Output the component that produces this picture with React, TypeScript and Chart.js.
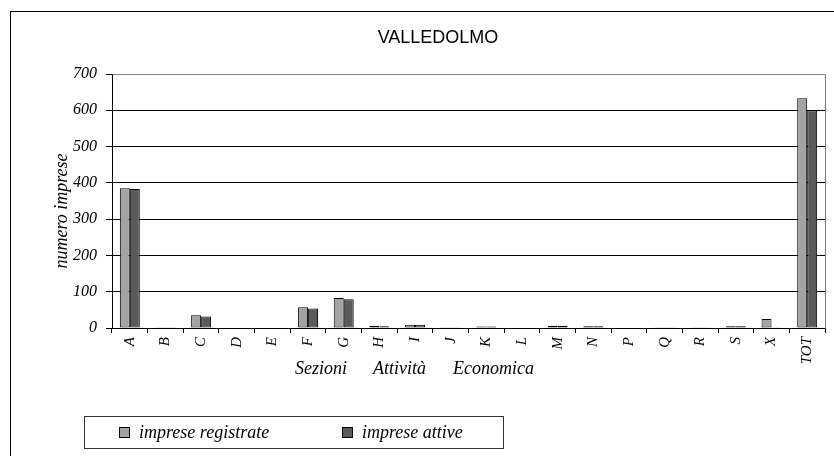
import React, { useEffect, useRef } from "react";
import { Chart, registerables } from "chart.js";

Chart.register(...registerables);

const categories = ["A", "B", "C", "D", "E", "F", "G", "H", "I", "J", "K", "L", "M", "N", "P", "Q", "R", "S", "X", "TOT"];
const impreseRegistrate = [385, 1, 35, 0, 0, 57, 83, 6, 9, 2, 4, 0, 6, 5, 0, 1, 1, 5, 25, 633];
const impreseAttive = [383, 1, 32, 0, 0, 54, 79, 5, 9, 2, 4, 0, 6, 5, 0, 1, 1, 5, 1, 600];
const yTicks = [0, 100, 200, 300, 400, 500, 600, 700];
const chartTitle = "VALLEDOLMO";
const xTitleWords = ["Sezioni", "Attività", "Economica"];
const yTitle = "numero imprese";
const seriesLabels = ["imprese registrate", "imprese attive"];
const seriesColors = ["#a3a3a3", "#5a5a5a"];

const SERIF = "'Liberation Serif', 'Times New Roman', serif";
const SANS = "'Liberation Sans', Arial, sans-serif";

const decorPlugin = {
  id: "decor",
  afterDraw(chart: any) {
    const { ctx, chartArea } = chart;
    const { left, right, top, bottom } = chartArea;
    ctx.save();
    // outer frame
    ctx.strokeStyle = "#000";
    ctx.lineWidth = 1;
    ctx.strokeRect(10.5, 11.5, 1000, 1000);
    // plot border top/right (gray)
    ctx.strokeStyle = "#808080";
    ctx.beginPath();
    ctx.moveTo(Math.round(left) + 0.5, Math.round(top) + 0.5);
    ctx.lineTo(Math.round(right) + 0.5, Math.round(top) + 0.5);
    ctx.lineTo(Math.round(right) + 0.5, Math.round(bottom) + 0.5);
    ctx.stroke();
    // title
    ctx.fillStyle = "#000";
    ctx.font = `18px ${SANS}`;
    ctx.textAlign = "center";
    ctx.textBaseline = "middle";
    ctx.fillText(chartTitle, 438, 38);
    // y axis title
    ctx.save();
    ctx.translate(62, (top + bottom) / 2 + 10);
    ctx.rotate(-Math.PI / 2);
    ctx.font = `italic 18px ${SERIF}`;
    ctx.textAlign = "center";
    ctx.textBaseline = "middle";
    ctx.fillText(yTitle, 0, 0);
    ctx.restore();
    // x axis title
    ctx.font = `italic 18px ${SERIF}`;
    ctx.textAlign = "left";
    ctx.textBaseline = "alphabetic";
    const gaps = [26, 27];
    let x = left + 183;
    xTitleWords.forEach((w, i) => {
      ctx.fillText(w, x, 374);
      x += ctx.measureText(w).width + (gaps[i] || 0);
    });
    // legend
    ctx.strokeStyle = "#333";
    ctx.strokeRect(84.5, 416.5, 419, 32);
    const itemX = [119, 342];
    ctx.font = `italic 18px ${SERIF}`;
    seriesLabels.forEach((lab, i) => {
      ctx.fillStyle = seriesColors[i];
      ctx.fillRect(itemX[i] + 0.5, 427.5, 10, 10);
      ctx.strokeStyle = "#000";
      ctx.strokeRect(itemX[i] + 0.5, 427.5, 10, 10);
      ctx.fillStyle = "#000";
      ctx.fillText(lab, itemX[i] + 20, 438);
    });
    ctx.restore();
  },
};

export default function App() {
  const ref = useRef<HTMLCanvasElement>(null);
  useEffect(() => {
    document.body.style.margin = "0";
    if (!ref.current) return;
    const chart = new Chart(ref.current, {
      type: "bar",
      data: {
        labels: categories,
        datasets: [
          {
            label: seriesLabels[0],
            data: impreseRegistrate,
            backgroundColor: seriesColors[0],
            borderColor: "#000",
            borderWidth: 1,
            borderSkipped: false,
            categoryPercentage: 0.56,
            barPercentage: 1,
          },
          {
            label: seriesLabels[1],
            data: impreseAttive,
            backgroundColor: seriesColors[1],
            borderColor: "#000",
            borderWidth: 1,
            borderSkipped: false,
            categoryPercentage: 0.56,
            barPercentage: 1,
          },
        ],
      },
      options: {
        responsive: false,
        animation: false,
        devicePixelRatio: 1,
        layout: { padding: { left: 0, right: 9, top: 74, bottom: 88 } },
        plugins: {
          legend: { display: false },
          title: { display: false },
          tooltip: { enabled: false },
        },
        scales: {
          x: {
            offset: true,
            grid: {
              offset: true,
              drawOnChartArea: false,
              drawTicks: true,
              tickLength: 5,
              color: "#000",
            },
            border: { color: "#000" },
            ticks: {
              minRotation: 90,
              maxRotation: 90,
              padding: 4,
              color: "#000",
              font: { family: SERIF, style: "italic", size: 15 },
            },
            afterFit: (s: any) => {
              s.height = 40;
            },
          },
          y: {
            min: 0,
            max: 700,
            afterBuildTicks: (s: any) => {
              s.ticks = yTicks.map((v) => ({ value: v }));
            },
            grid: { color: "#000", tickLength: 6 },
            border: { color: "#000" },
            ticks: {
              padding: 9,
              color: "#000",
              font: { family: SERIF, style: "italic", size: 16 },
            },
            afterFit: (s: any) => {
              s.width = 112;
            },
          },
        },
      },
      plugins: [decorPlugin],
    });
    return () => chart.destroy();
  }, []);
  return (
    <div style={{ width: 834, height: 456 }}>
      <canvas ref={ref} width={834} height={456} style={{ display: "block" }} />
    </div>
  );
}
